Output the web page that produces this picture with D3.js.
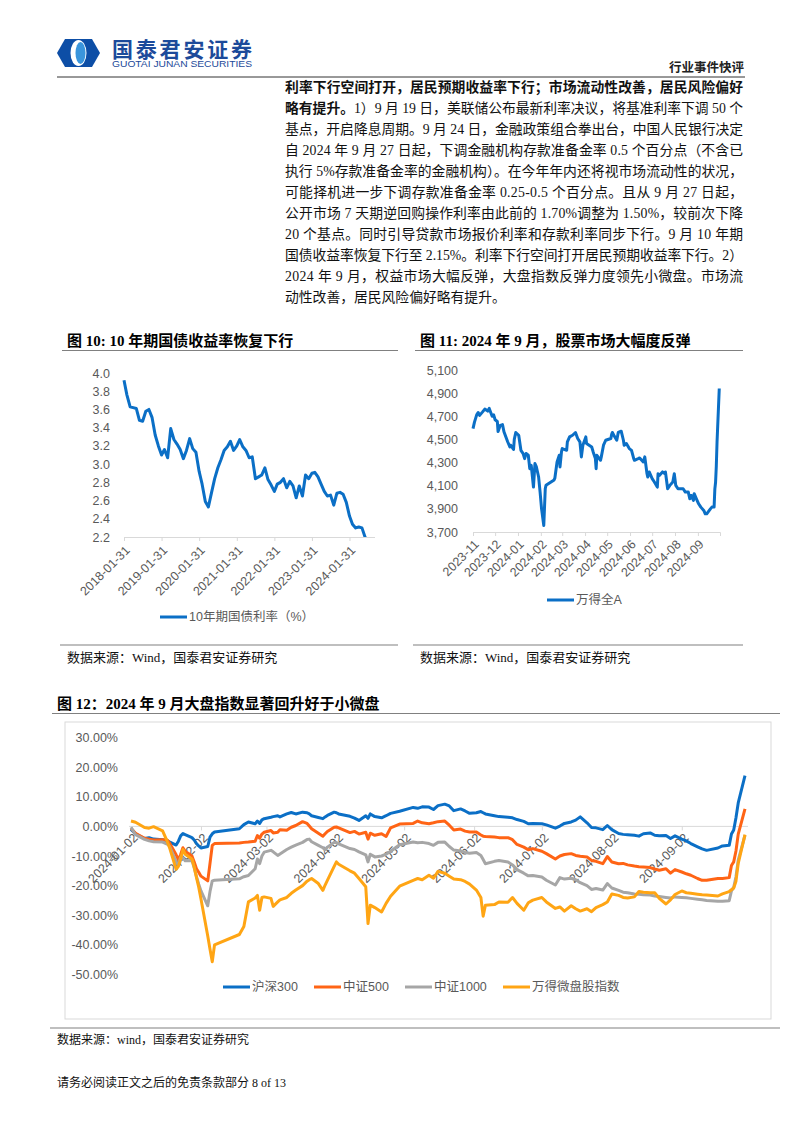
<!DOCTYPE html>
<html>
<head>
<meta charset="utf-8">
<script src="https://cdn.jsdelivr.net/npm/d3@7"></script>
<style>
  body { margin: 0; background: #fff; }
  svg { display: block; }
</style>
</head>
<body>
<script>
// ---------- data ----------

// paragraph text, one entry per printed line: [text, bold]
var paraLines = [
    [["利率下行空间打开，居民预期收益率下行；市场流动性改善，居民风险偏好", true]],
    [["略有提升。", true], ["1）9 月 19 日，美联储公布最新利率决议，将基准利率下调 50 个", false]],
    [["基点，开启降息周期。9 月 24 日，金融政策组合拳出台，中国人民银行决定", false]],
    [["自 2024 年 9 月 27 日起，下调金融机构存款准备金率 0.5 个百分点（不含已", false]],
    [["执行 5%存款准备金率的金融机构）。在今年年内还将视市场流动性的状况，", false]],
    [["可能择机进一步下调存款准备金率 0.25-0.5 个百分点。且从 9 月 27 日起，", false]],
    [["公开市场 7 天期逆回购操作利率由此前的 1.70%调整为 1.50%，较前次下降", false]],
    [["20 个基点。同时引导贷款市场报价利率和存款利率同步下行。9 月 10 年期", false]],
    [["国债收益率恢复下行至 2.15%。利率下行空间打开居民预期收益率下行。2）", false]],
    [["2024 年 9 月，权益市场大幅反弹，大盘指数反弹力度领先小微盘。市场流", false]],
    [["动性改善，居民风险偏好略有提升。", false]]
];

// fig 10: 10y government bond yield, month ends Jan 2018 .. Sep 2024
var bondYield = [
    3.92, 3.76, 3.63, 3.62, 3.61, 3.48, 3.47, 3.58, 3.60, 3.51, 3.32, 3.20,
    3.10, 3.16, 3.07, 3.39, 3.27, 3.22, 3.16, 3.06, 3.15, 3.28, 3.17, 3.13,
    2.92, 2.78, 2.59, 2.53, 2.69, 2.84, 2.96, 3.05, 3.15, 3.19, 3.25, 3.15,
    3.20, 3.27, 3.19, 3.15, 3.07, 3.08, 2.84, 2.86, 2.88, 2.96, 2.83, 2.77,
    2.70, 2.78, 2.80, 2.84, 2.74, 2.81, 2.76, 2.63, 2.76, 2.65, 2.88, 2.84,
    2.90, 2.91, 2.86, 2.78, 2.70, 2.65, 2.66, 2.55, 2.68, 2.69, 2.67, 2.58,
    2.43, 2.34, 2.30, 2.31, 2.30, 2.20, 2.14, 2.17, 2.15
];
var bondTicks = ["2018-01-31", "2019-01-31", "2020-01-31", "2021-01-31", "2022-01-31", "2023-01-31", "2024-01-31"];
var bondYTicks = [2.2, 2.4, 2.6, 2.8, 3.0, 3.2, 3.4, 3.6, 3.8, 4.0];

// fig 11: Wind All A index
var allADates = [
    "2023-11-01", "2023-11-03", "2023-11-06", "2023-11-08", "2023-11-10", "2023-11-14", "2023-11-17", "2023-11-21",
    "2023-11-23", "2023-11-27", "2023-11-29", "2023-12-01", "2023-12-04", "2023-12-05", "2023-12-08", "2023-12-11",
    "2023-12-13", "2023-12-18", "2023-12-21", "2023-12-22", "2023-12-26", "2023-12-27", "2023-12-29", "2024-01-02",
    "2024-01-05", "2024-01-08", "2024-01-10", "2024-01-12", "2024-01-15", "2024-01-17", "2024-01-19", "2024-01-22",
    "2024-01-24", "2024-01-26", "2024-01-29", "2024-01-31", "2024-02-02", "2024-02-05", "2024-02-07", "2024-02-08",
    "2024-02-19", "2024-02-20", "2024-02-23", "2024-02-26", "2024-02-27", "2024-02-29", "2024-03-01", "2024-03-07",
    "2024-03-08", "2024-03-11", "2024-03-15", "2024-03-19", "2024-03-22", "2024-03-25", "2024-03-27", "2024-03-29",
    "2024-04-02", "2024-04-03", "2024-04-10", "2024-04-12", "2024-04-15", "2024-04-16", "2024-04-17", "2024-04-22",
    "2024-04-23", "2024-04-26", "2024-04-29", "2024-05-06", "2024-05-07", "2024-05-08", "2024-05-10", "2024-05-14",
    "2024-05-16", "2024-05-20", "2024-05-23", "2024-05-24", "2024-05-27", "2024-05-31", "2024-06-03", "2024-06-06",
    "2024-06-07", "2024-06-12", "2024-06-14", "2024-06-19", "2024-06-21", "2024-06-24", "2024-06-25", "2024-06-27",
    "2024-07-01", "2024-07-04", "2024-07-08", "2024-07-09", "2024-07-11", "2024-07-15", "2024-07-18", "2024-07-19",
    "2024-07-22", "2024-07-25", "2024-07-29", "2024-07-31", "2024-08-02", "2024-08-05", "2024-08-08", "2024-08-12",
    "2024-08-15", "2024-08-19", "2024-08-21", "2024-08-23", "2024-08-26", "2024-08-27", "2024-08-30", "2024-09-02",
    "2024-09-05", "2024-09-09", "2024-09-11", "2024-09-13", "2024-09-18", "2024-09-20", "2024-09-23", "2024-09-24",
    "2024-09-25", "2024-09-26", "2024-09-27", "2024-09-30"
];
var allAValues = [
    4594, 4650, 4712, 4733, 4708, 4738, 4762, 4745,
    4768, 4700, 4712, 4670, 4655, 4568, 4622, 4628,
    4566, 4480, 4436, 4450, 4413, 4500, 4560, 4536,
    4406, 4377, 4334, 4378, 4363, 4247, 4276, 4088,
    4291, 4262, 4175, 4045, 3900, 3756, 4074, 4103,
    4150, 4165, 4305, 4363, 4262, 4392, 4421, 4406,
    4479, 4522, 4536, 4560, 4508, 4479, 4349, 4450,
    4522, 4465, 4435, 4392, 4334, 4247, 4363, 4320,
    4349, 4450, 4493, 4508, 4542, 4560, 4536, 4493,
    4560, 4571, 4493, 4450, 4465, 4421, 4406, 4334,
    4320, 4334, 4340, 4305, 4349, 4204, 4175, 4219,
    4161, 4132, 4088, 4204, 4190, 4219, 4204, 4219,
    4074, 4103, 4132, 4204, 4103, 4074, 4074, 4074,
    4045, 4045, 3987, 4016, 3973, 4031, 3987, 3944,
    3915, 3886, 3857, 3857, 3900, 3915, 3915, 4070,
    4130, 4270, 4480, 4940
];
var allAMonths = ["2023-11", "2023-12", "2024-01", "2024-02", "2024-03", "2024-04", "2024-05", "2024-06", "2024-07", "2024-08", "2024-09"];
var allAYTicks = [3700, 3900, 4100, 4300, 4500, 4700, 4900, 5100];

// fig 12: cumulative return since start of 2024, %
var idxDates = [
    "01-02", "01-04", "01-08", "01-10", "01-12", "01-16", "01-18", "01-19", "01-22", "01-23", "01-24", "01-25", "01-26", "01-29", "01-30", "01-31",
    "02-01", "02-02", "02-05", "02-06", "02-07", "02-08", "02-19", "02-21", "02-23", "02-26", "02-27", "02-28", "02-29",
    "03-01", "03-04", "03-05", "03-07", "03-08", "03-11", "03-13", "03-15", "03-18", "03-20", "03-21", "03-22", "03-25", "03-27", "03-28", "03-29",
    "04-01", "04-02", "04-03", "04-08", "04-10", "04-12", "04-15", "04-16", "04-17", "04-19", "04-22", "04-24", "04-26", "04-30",
    "05-06", "05-08", "05-10", "05-13", "05-15", "05-17", "05-20", "05-22", "05-24", "05-27", "05-29", "05-31",
    "06-03", "06-05", "06-06", "06-07", "06-11", "06-13", "06-17", "06-19", "06-21", "06-24", "06-26", "06-28",
    "07-02", "07-04", "07-08", "07-10", "07-12", "07-15", "07-17", "07-19", "07-22", "07-24", "07-26", "07-29", "07-31",
    "08-02", "08-05", "08-07", "08-09", "08-12", "08-14", "08-16", "08-19", "08-21", "08-23", "08-26", "08-28", "08-30",
    "09-02", "09-04", "09-06", "09-09", "09-11", "09-13", "09-18", "09-20", "09-23", "09-24", "09-25", "09-26", "09-27", "09-30"
];
var hs300 = [
    -1.0, -2.5, -4.1, -3.8, -4.3, -4.5, -4.8, -5.2, -6.3, -5.0, -3.2, -2.4, -2.8, -3.8, -4.6, -5.8,
    -6.6, -7.3, -6.8, -3.6, -2.5, -1.9, -0.8, 0.6, 1.5, 0.9, 1.8, 1.0, 2.2,
    2.6, 3.1, 3.3, 3.6, 3.2, 4.2, 4.7, 4.2, 4.8, 4.6, 4.2, 3.6, 3.0, 2.6, 3.2, 3.7,
    4.8, 4.6, 4.2, 3.4, 2.8, 2.0, 3.6, 2.7, 4.2, 3.3, 2.9, 3.6, 4.4, 5.1,
    6.4, 6.1, 6.6, 6.5, 5.7, 7.0, 7.5, 6.9, 5.3, 5.9, 5.2, 4.4,
    4.6, 5.0, 4.6, 4.2, 3.6, 3.3, 3.1, 2.9, 2.3, 1.7, 0.9, 1.0,
    0.9, 0.5, -0.6, 0.1, 1.0, 1.5, 2.1, 3.2, 1.2, -0.4, -0.5, -1.1, 0.3,
    -1.1, -2.4, -2.7, -2.8, -3.0, -3.3, -2.5, -2.2, -3.0, -3.2, -3.1, -4.1, -3.2,
    -4.3, -4.9, -5.8, -6.9, -7.6, -8.1, -7.3, -6.6, -6.4, -2.6, -1.2, 2.9, 7.9, 17.1
];
var zz500 = [
    -0.6, -2.3, -4.0, -4.3, -4.6, -4.5, -4.6, -5.5, -9.6, -11.3, -9.5, -7.2, -8.4, -10.0, -12.0, -14.3,
    -15.5, -16.8, -18.4, -12.5, -6.4, -5.8, -5.6, -5.4, -5.3, -5.0, -3.1, -4.0, -2.6,
    -2.0, -1.4, -2.2, -2.0, -1.1, -1.3, -0.3, 0.3, 1.6, 1.0, 0.1, -0.8, -2.3, -3.3, -2.5, -1.7,
    -0.3, -0.2, -0.5, -2.1, -1.7, -2.6, -2.0, -4.3, -2.3, -3.0, -2.5, -3.4, -0.5, 0.8,
    1.0, 1.8, 1.2, 0.9, 1.2, 1.6, 1.8, 0.4, -1.2, -0.9, -1.6, -1.9,
    -1.9, -2.9, -3.3, -3.4, -3.6, -3.8, -3.8, -4.5, -6.1, -7.0, -7.9, -7.5,
    -8.4, -9.2, -11.0, -10.0, -9.5, -9.2, -9.8, -10.1, -10.3, -11.5, -11.8, -12.6, -10.2,
    -12.0, -12.6, -12.5, -13.0, -13.4, -13.6, -13.7, -13.9, -14.4, -14.8, -14.3, -15.8, -14.6,
    -15.4, -16.0, -16.5, -17.6, -18.2, -18.2, -17.6, -17.6, -17.3, -13.2, -12.0, -8.3, -2.6, 5.9
];
var zz1000 = [
    -0.3, -2.8, -4.4, -4.9, -5.2, -5.3, -6.0, -6.6, -12.0, -12.8, -10.5, -10.6, -11.6, -11.5, -14.0, -17.0,
    -19.5, -21.8, -26.8, -22.0, -18.4, -18.2, -17.7, -17.0, -16.6, -14.3, -11.0, -12.6, -10.0,
    -8.7, -8.1, -8.6, -9.8, -9.3, -7.8, -7.0, -6.3, -5.4, -4.4, -4.3, -5.2, -6.4, -7.2, -7.8, -7.0,
    -5.4, -5.5, -5.9, -7.5, -7.8, -8.6, -9.6, -12.0, -9.4, -10.3, -10.0, -9.4, -8.4, -6.2,
    -5.3, -5.5, -5.4, -5.8, -6.4, -5.4, -5.3, -6.8, -8.0, -8.3, -8.8, -9.1,
    -8.8, -9.8, -11.2, -12.6, -11.8, -11.5, -12.0, -13.0, -14.6, -15.8, -16.7, -16.6,
    -17.1, -18.2, -19.8, -17.3, -17.8, -17.5, -18.0, -19.0, -20.0, -21.3, -21.0, -21.5, -19.3,
    -20.8, -21.6, -22.2, -22.4, -22.8, -22.9, -23.1, -23.2, -23.5, -23.7, -24.0, -24.2, -23.8,
    -24.0, -24.1, -24.3, -24.6, -24.8, -25.0, -25.3, -25.3, -25.1, -21.8, -20.6, -17.0, -11.4, -3.0
];
var microCap = [
    1.8, 1.4, -0.4, -0.6, -0.1, -1.5, -5.0, -7.0, -14.5, -13.5, -11.0, -7.8, -9.4, -11.0, -13.8, -17.2,
    -20.5, -24.5, -37.0, -41.5, -45.7, -40.0, -36.5, -33.8, -25.5, -24.2, -23.3, -28.3, -24.0,
    -23.8, -24.3, -27.0, -25.5, -24.8, -24.0, -22.6, -21.5, -20.0, -18.5, -18.0, -17.6, -19.3, -21.6, -19.8, -18.2,
    -13.5, -12.0, -12.8, -15.0, -15.8, -17.6, -20.4, -32.8, -26.6, -27.4, -28.9, -26.0, -23.6, -20.2,
    -18.2, -17.6, -18.0, -16.5, -17.5, -15.2, -15.8, -16.8, -17.8, -18.0, -18.6, -19.5,
    -21.5, -24.0, -30.3, -26.6, -26.4, -25.5, -25.6, -24.0, -26.0, -28.3, -25.8, -24.9,
    -24.0, -25.5, -27.7, -27.2, -28.6, -26.8, -27.8, -28.6, -27.8, -28.8, -27.4, -26.4, -25.5,
    -22.8, -23.3, -24.0, -24.2, -23.8, -22.0, -22.2, -22.4, -22.4, -24.3, -26.2, -24.8, -23.0,
    -21.8, -22.4, -22.6, -22.9, -23.1, -23.2, -23.5, -22.8, -22.0, -21.4, -20.8, -18.5, -12.5, -2.8
];
var idxNames = ["沪深300", "中证500", "中证1000", "万得微盘股指数"];
var idxTicks = ["2024-01-02", "2024-02-02", "2024-03-02", "2024-04-02", "2024-05-02", "2024-06-02", "2024-07-02", "2024-08-02", "2024-09-02"];
var idxYTicks = [-50, -40, -30, -20, -10, 0, 10, 20, 30];

// ---------- setup ----------
var width = 802;
var height = 1133;
var SERIF = '"Liberation Serif", "Times New Roman", "Noto Sans CJK SC", serif';
var SANS = '"Liberation Sans", Arial, "Noto Sans CJK SC", sans-serif';
var axisGrey = "#d9d9d9";
var labelGrey = "#595959";
var blue = "#0b6fc6";
var parseDay = d3.timeParse("%Y-%m-%d");
var parseMonth = d3.timeParse("%Y-%m");

var svg = d3.select("body")
    .append("svg")
    .attr("width", width)
    .attr("height", height);

svg.append("rect").attr("width", width).attr("height", height).attr("fill", "#fff");

// ---------- header ----------
var logo = svg.append("g");
logo.append("path")
    .attr("d", "M65,39 L92,39 L100,53 L92,67 L65,67 L57,53 Z")
    .attr("fill", "#0d4ea6");
logo.append("ellipse").attr("cx", 78.5).attr("cy", 53).attr("rx", 8).attr("ry", 13).attr("fill", "#fff");
logo.append("ellipse").attr("cx", 80.5).attr("cy", 53).attr("rx", 5).attr("ry", 11).attr("fill", "#3a95dc");

svg.append("text")
    .attr("x", 112).attr("y", 50).attr("dy", "0.35em")
    .attr("font-family", SANS).attr("font-size", 21).attr("font-weight", "bold")
    .attr("fill", "#1c4a9a")
    .attr("textLength", 140).attr("lengthAdjust", "spacing")
    .text("国泰君安证券");
svg.append("text")
    .attr("x", 112).attr("y", 64.5).attr("dy", "0.35em")
    .attr("font-family", SANS).attr("font-size", 8.5)
    .attr("fill", "#1c4a9a")
    .attr("textLength", 140).attr("lengthAdjust", "spacingAndGlyphs")
    .text("GUOTAI JUNAN SECURITIES");
svg.append("text")
    .attr("x", 744).attr("y", 68).attr("dy", "0.35em")
    .attr("text-anchor", "end")
    .attr("font-family", SERIF).attr("font-size", 12.5).attr("font-weight", "bold")
    .attr("fill", "#222")
    .text("行业事件快评");
svg.append("line")
    .attr("x1", 57).attr("x2", 745).attr("y1", 77).attr("y2", 77)
    .attr("stroke", "#333").attr("stroke-width", 1);

// ---------- paragraph ----------
var paraLeft = 285, paraRight = 743, paraTop = 87, paraStep = 21;
paraLines.forEach(function(segs, i) {
    var x = paraLeft;
    var y = paraTop + i * paraStep;
    segs.forEach(function(seg, j) {
        var t = svg.append("text")
            .attr("x", x).attr("y", y).attr("dy", "0.35em")
            .attr("font-family", SERIF).attr("font-size", 13.8)
            .attr("font-weight", seg[1] ? "bold" : "normal")
            .attr("fill", "#111")
            .text(seg[0]);
        var w = t.node().getComputedTextLength();
        // justify every line except the last one
        if (j === segs.length - 1 && i < paraLines.length - 1) {
            t.attr("textLength", paraRight - x).attr("lengthAdjust", "spacing");
            x = paraRight;
        } else {
            x += w;
        }
    });
});

// ---------- helpers ----------
function figTitle(x, y, x2, text) {
    svg.append("text")
        .attr("x", x).attr("y", y).attr("dy", "0.35em")
        .attr("font-family", SERIF).attr("font-size", 15).attr("font-weight", "bold")
        .attr("fill", "#000")
        .text(text);
    svg.append("line")
        .attr("x1", x - 5).attr("x2", x2).attr("y1", y + 9.5).attr("y2", y + 9.5)
        .attr("stroke", "#808080").attr("stroke-width", 1.2);
}

function sourceNote(x1, x2, y, text, size) {
    svg.append("line")
        .attr("x1", x1).attr("x2", x2).attr("y1", y).attr("y2", y)
        .attr("stroke", "#808080").attr("stroke-width", 1.2);
    svg.append("text")
        .attr("x", x1 + 7).attr("y", y + 12).attr("dy", "0.35em")
        .attr("font-family", SERIF).attr("font-size", size)
        .attr("fill", "#111")
        .text(text);
}

function styleYAxis(g) {
    g.select(".domain").remove();
    g.attr("font-family", SANS).attr("font-size", 12.5);
    g.selectAll(".tick text").attr("fill", labelGrey);
}

function styleXAxis(g, dx, dy) {
    g.attr("font-family", SANS).attr("font-size", 12.5);
    g.select(".domain").attr("stroke", axisGrey);
    g.selectAll(".tick line").attr("stroke", axisGrey);
    g.selectAll(".tick text")
        .attr("fill", labelGrey)
        .attr("x", 0).attr("y", 0).attr("dy", "0.35em")
        .attr("text-anchor", "end")
        .attr("transform", "translate(" + dx + "," + dy + ") rotate(-45)");
}

function legendItem(x, y, color, label) {
    svg.append("line")
        .attr("x1", x).attr("x2", x + 27).attr("y1", y).attr("y2", y)
        .attr("stroke", color).attr("stroke-width", 3);
    svg.append("text")
        .attr("x", x + 29).attr("y", y).attr("dy", "0.35em")
        .attr("font-family", SANS).attr("font-size", 12.5)
        .attr("fill", labelGrey)
        .text(label);
}

// ---------- fig 10 ----------
figTitle(67, 341, 398, "图  10: 10 年期国债收益率恢复下行");

var bondData = bondYield.map(function(v, i) {
    return { date: new Date(2018, i + 1, 0), value: v };
});

var x10 = d3.scaleTime()
    .domain([parseDay("2018-01-31"), parseDay("2024-09-30")])
    .range([124, 374.5]);
var y10 = d3.scaleLinear().domain([2.2, 4.0]).range([537, 373]);

svg.append("g")
    .attr("transform", "translate(110,0)")
    .call(d3.axisLeft(y10).tickValues(bondYTicks).tickSize(0).tickPadding(0).tickFormat(d3.format(".1f")))
    .call(styleYAxis);

svg.append("g")
    .attr("transform", "translate(0," + y10(2.2) + ")")
    .call(d3.axisBottom(x10).tickValues(bondTicks.map(parseDay)).tickSize(4).tickSizeOuter(0)
        .tickFormat(d3.timeFormat("%Y-%m-%d")))
    .call(styleXAxis, 3, 11);

svg.append("clipPath").attr("id", "clip10")
    .append("rect").attr("x", 110).attr("y", 360).attr("width", 280).attr("height", y10(2.2) - 360);

svg.append("path")
    .datum(bondData)
    .attr("clip-path", "url(#clip10)")
    .attr("fill", "none")
    .attr("stroke", blue)
    .attr("stroke-width", 3)
    .attr("stroke-linejoin", "round")
    .attr("d", d3.line().x(function(d) { return x10(d.date); }).y(function(d) { return y10(d.value); }));

legendItem(160, 617, blue, "10年期国债利率（%）");
sourceNote(60, 398, 645, "数据来源：Wind，国泰君安证券研究", 13);

// ---------- fig 11 ----------
figTitle(420, 341, 743, "图  11: 2024 年 9 月，股票市场大幅度反弹");

var allAData = allADates.map(function(d, i) {
    return { date: parseDay(d), value: allAValues[i] };
});

var x11 = d3.scaleTime()
    .domain([parseDay("2023-11-01"), parseDay("2024-10-01")])
    .range([473, 720]);
var y11 = d3.scaleLinear().domain([3700, 5100]).range([532, 370]);

svg.append("g")
    .attr("transform", "translate(458,0)")
    .call(d3.axisLeft(y11).tickValues(allAYTicks).tickSize(0).tickPadding(0).tickFormat(d3.format(",")))
    .call(styleYAxis);

var monthTicks = allAMonths.map(parseMonth);
var g11 = svg.append("g")
    .attr("transform", "translate(0," + y11(3700) + ")")
    .call(d3.axisBottom(x11).tickValues(monthTicks).tickSize(4).tickSizeOuter(4)
        .tickFormat(d3.timeFormat("%Y-%m")))
    .call(styleXAxis, 3, 10);

svg.append("path")
    .datum(allAData)
    .attr("fill", "none")
    .attr("stroke", blue)
    .attr("stroke-width", 3)
    .attr("stroke-linejoin", "round")
    .attr("d", d3.line().x(function(d) { return x11(d.date); }).y(function(d) { return y11(d.value); }));

legendItem(547, 600, blue, "万得全A");
sourceNote(413, 743, 645, "数据来源：Wind，国泰君安证券研究", 13);

// ---------- fig 12 ----------
figTitle(57, 704, 780, "图  12：2024 年 9 月大盘指数显著回升好于小微盘");

svg.append("rect")
    .attr("x", 65).attr("y", 722).attr("width", 706).attr("height", 297)
    .attr("fill", "none").attr("stroke", axisGrey);

var x12 = d3.scaleTime()
    .domain([parseDay("2024-01-02"), parseDay("2024-09-30")])
    .range([131, 745]);
var y12 = d3.scaleLinear().domain([-50, 30]).range([974.5, 737.5]);

svg.append("g")
    .attr("transform", "translate(118,0)")
    .call(d3.axisLeft(y12).tickValues(idxYTicks).tickSize(0).tickPadding(0)
        .tickFormat(function(v) { return v.toFixed(2) + "%"; }))
    .call(styleYAxis);

var g12 = svg.append("g")
    .attr("transform", "translate(0," + y12(0) + ")")
    .call(d3.axisBottom(x12).tickValues(idxTicks.map(parseDay)).tickSize(4).tickSizeOuter(0)
        .tickFormat(d3.timeFormat("%Y-%m-%d")))
    .call(styleXAxis, 4, 9);
g12.select(".domain").attr("d", "M129,0H748");

var idxSeries = [hs300, zz500, zz1000, microCap];
var idxColors = [blue, "#ff6415", "#a6a6a6", "#ffa514"];
var line12 = d3.line()
    .x(function(d) { return x12(d.date); })
    .y(function(d) { return y12(d.value); });

idxSeries.forEach(function(series, k) {
    var pts = series.map(function(v, i) {
        return { date: parseDay("2024-" + idxDates[i]), value: v };
    });
    svg.append("path")
        .datum(pts)
        .attr("fill", "none")
        .attr("stroke", idxColors[k])
        .attr("stroke-width", 3)
        .attr("stroke-linejoin", "round")
        .attr("d", line12);
});

var legendX = [223, 314, 405, 503];
idxNames.forEach(function(name, k) {
    legendItem(legendX[k], 987, idxColors[k], name);
});

sourceNote(50, 780, 1028, "数据来源：wind，国泰君安证券研究", 12);

// ---------- footer ----------
svg.append("text")
    .attr("x", 57).attr("y", 1083).attr("dy", "0.35em")
    .attr("font-family", SERIF).attr("font-size", 12)
    .attr("fill", "#111")
    .text("请务必阅读正文之后的免责条款部分 8 of 13");
</script>
</body>
</html>
